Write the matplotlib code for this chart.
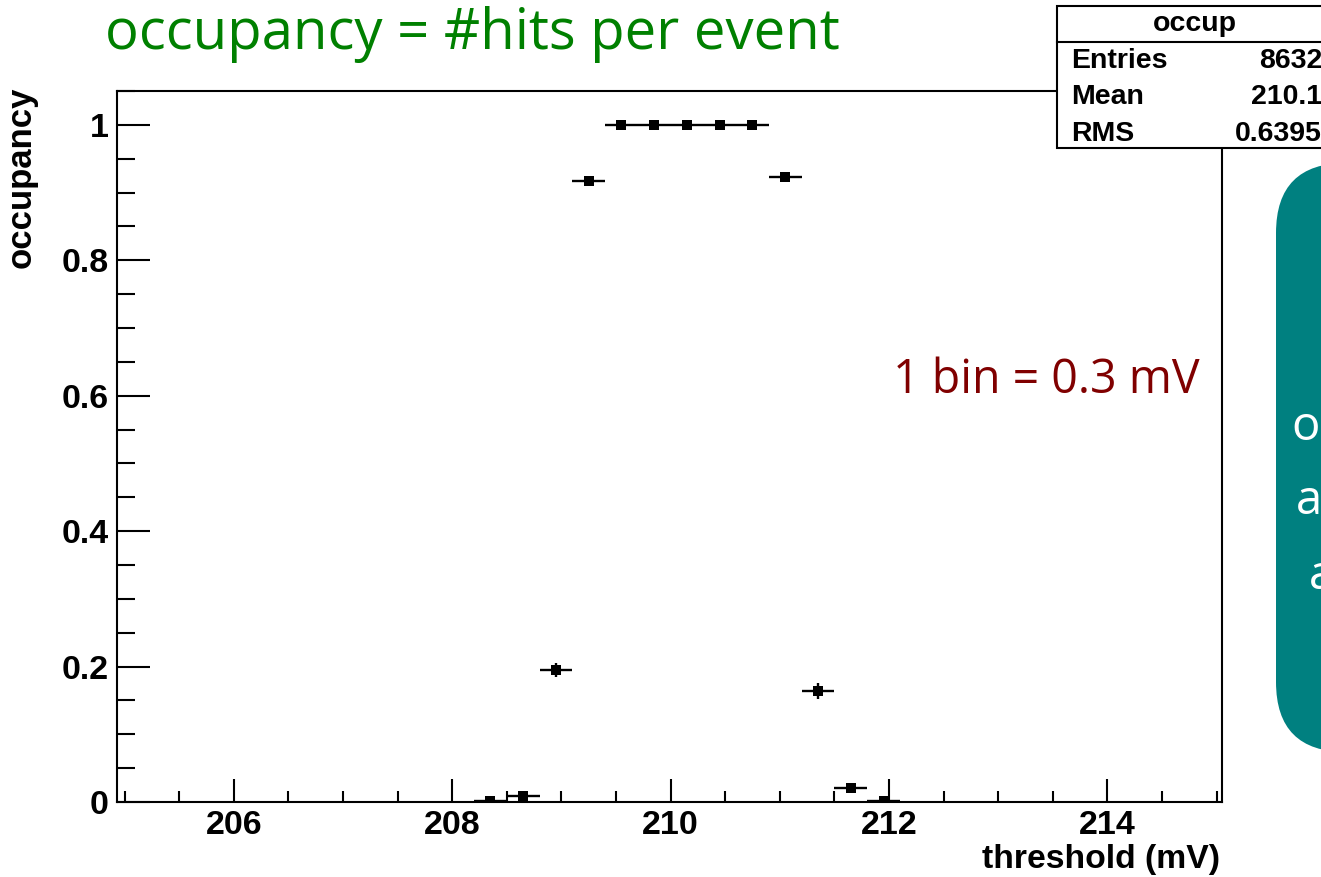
import matplotlib
matplotlib.use("Agg")
import matplotlib.pyplot as plt
from matplotlib.patches import Rectangle, FancyBboxPatch
from matplotlib.ticker import MultipleLocator, FixedLocator, FuncFormatter
import numpy as np

# ---- data ----
bin_width = 0.3
bin_centers = [208.35, 208.65, 208.95, 209.25, 209.55, 209.85, 210.15,
               210.45, 210.75, 211.05, 211.35, 211.65, 211.95]
occupancy = [0.001, 0.009, 0.195, 0.917, 1.0, 1.0, 1.0,
             1.0, 1.0, 0.923, 0.164, 0.021, 0.002]
occ_err = [0.001, 0.003, 0.011, 0.008, 0.0, 0.0, 0.0,
           0.0, 0.0, 0.007, 0.012, 0.004, 0.0013]
x_major = [206, 208, 210, 212, 214]
y_major = [0, 0.2, 0.4, 0.6, 0.8, 1.0]
stats_title = "occup"
stats_labels = ["Entries", "Mean", "RMS"]
stats_values = ["8632", "210.1", "0.6395"]

W, H = 1321, 877
fig = plt.figure(figsize=(W / 100, H / 100), dpi=100)
fig.patch.set_facecolor("white")

ax = fig.add_axes([117 / W, 75 / H, 1105 / W, 711 / H])
ax.errorbar(bin_centers, occupancy, xerr=bin_width / 2, yerr=occ_err,
            fmt="s", color="black", ms=7.5, elinewidth=1.7, capsize=0,
            markeredgewidth=0)
ax.set_xlim(204.93, 215.05)
ax.set_ylim(0, 1.05)

ax.xaxis.set_major_locator(FixedLocator(x_major))
ax.xaxis.set_minor_locator(MultipleLocator(0.5))
ax.yaxis.set_major_locator(FixedLocator(y_major))
ax.yaxis.set_minor_locator(MultipleLocator(0.05))
ax.yaxis.set_major_formatter(FuncFormatter(lambda v, p: f"{v:g}"))

ax.tick_params(axis="both", which="both", direction="in", top=False,
               right=False, width=1.5, color="black")
ax.tick_params(axis="x", which="major", length=16.5, pad=6)
ax.tick_params(axis="x", which="minor", length=8)
ax.tick_params(axis="y", which="major", length=24, pad=6)
ax.tick_params(axis="y", which="minor", length=13)
for lab in ax.get_xticklabels() + ax.get_yticklabels():
    lab.set_fontfamily("Liberation Sans")
    lab.set_fontweight("bold")
    lab.set_fontsize(24.5)
for s in ax.spines.values():
    s.set_linewidth(1.5)

# ---- overlay in pixel coordinates ----
ov = fig.add_axes([0, 0, 1, 1], zorder=10)
ov.set_xlim(0, W)
ov.set_ylim(H, 0)
ov.axis("off")

# axis titles
ov.text(1220, 868, "threshold (mV)", ha="right", va="baseline",
        fontfamily="Liberation Sans", fontweight="bold", fontsize=24.3)
ov.text(38, 87, "occupancy", ha="right", va="bottom", rotation=90,
        rotation_mode="anchor", fontfamily="Liberation Sans",
        fontweight="bold", fontsize=25)

# slide title and note
ov.text(105, 49, "occupancy = #hits per event", ha="left", va="baseline",
        color="#008000", fontfamily="Open Sans", fontsize=40.5)
ov.text(893, 393, "1 bin = 0.3 mV", ha="left", va="baseline",
        color="#800000", fontfamily="Open Sans", fontsize=33.5)

# stats box
ov.add_patch(Rectangle((1057, 6), 290, 142, facecolor="white",
                       edgecolor="black", lw=1.5))
ov.plot([1057, 1347], [42, 42], color="black", lw=1.5)
ov.text(1195, 24, stats_title, ha="center", va="center",
        fontfamily="Liberation Sans", fontweight="bold", fontsize=20.5)
for i, (lab, val) in enumerate(zip(stats_labels, stats_values)):
    y = 61 + i * 36.5
    ov.text(1071, y, lab, ha="left", va="center",
            fontfamily="Liberation Sans", fontweight="bold", fontsize=20.5)
    ov.text(1322, y, val, ha="right", va="center",
            fontfamily="Liberation Sans", fontweight="bold", fontsize=20.5)

# teal rounded box (cut off by the figure edge)
ov.add_patch(FancyBboxPatch((1276, 163), 250, 589,
                            boxstyle="round,pad=0,rounding_size=70",
                            facecolor="#008080", edgecolor="none"))
for txt, x, y in [("o", 1291, 440), ("a", 1296, 514), ("a", 1309, 589)]:
    ov.text(x, y, txt, ha="left", va="baseline", color="white",
            fontfamily="Open Sans", fontsize=34)

fig.savefig("out.png", dpi=100)
